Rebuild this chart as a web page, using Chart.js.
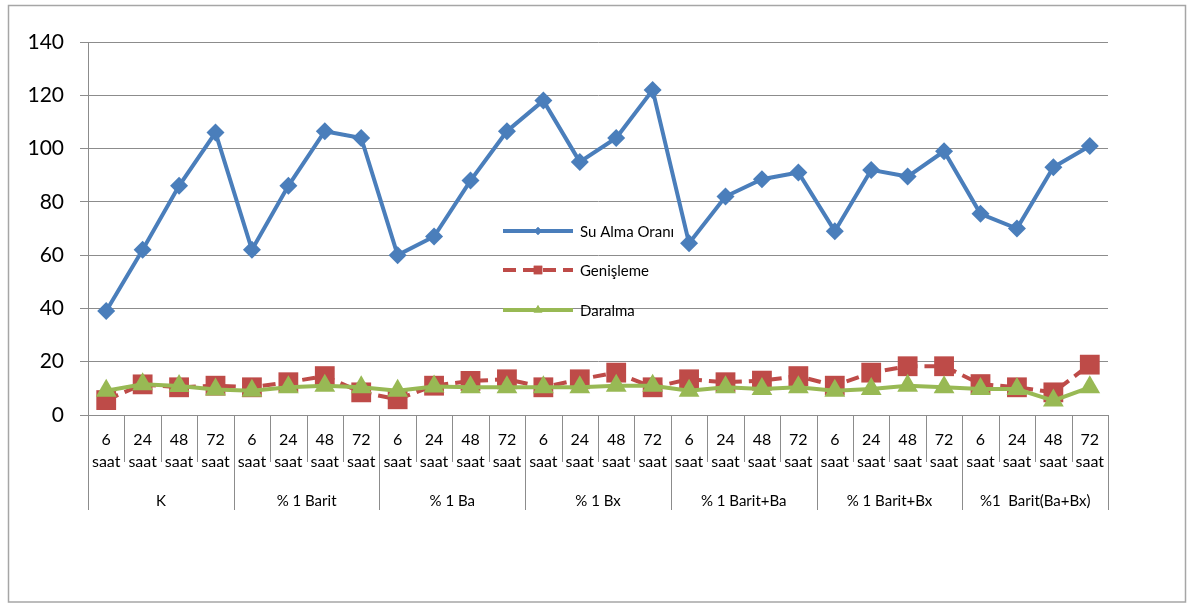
<!DOCTYPE html>
<html>
<head>
<meta charset="utf-8">
<script src="https://cdn.jsdelivr.net/npm/chart.js@4"></script>
<style>
  html, body { margin: 0; padding: 0; background: #fff; }
  #wrap { width: 1195px; height: 604px; position: relative; }
</style>
</head>
<body>
<div id="wrap"><canvas id="c" width="1195" height="604"></canvas></div>
<script>
const hours = ['6', '24', '48', '72'];
const groups = ['K', '% 1 Barit', '% 1 Ba', '% 1 Bx', '% 1 Barit+Ba', '% 1 Barit+Bx', '%1  Barit(Ba+Bx)'];
const categories = [];
groups.forEach(() => hours.forEach(h => categories.push([h, 'saat'])));

const suAlmaOrani = [39, 62, 86, 106, 62, 86, 106.5, 104, 60, 67, 88, 106.5, 118, 95, 104, 122, 64.5, 82, 88.5, 91, 69, 92, 89.5, 99, 75.5, 70, 93, 101];
const genisleme = [5.6, 11.5, 10.4, 11, 10.4, 12.3, 14.6, 8.5, 5.9, 11, 12.8, 13.4, 10.4, 13.4, 15.9, 10.4, 13.4, 12.3, 12.9, 14.6, 11, 15.9, 18.3, 18.3, 11.6, 10.4, 8.5, 18.9];
const daralma = [9.1, 11.5, 10.9, 9.6, 9.1, 10.4, 11, 10.4, 9.1, 10.7, 10.4, 10.4, 10.4, 10.4, 11, 11, 9.1, 10.4, 9.75, 10.4, 9.1, 9.75, 11, 10.4, 9.75, 9.75, 5.4, 10.4];
const yTicks = [0, 20, 40, 60, 80, 100, 120, 140];
const seriesNames = ['Su Alma Oranı', 'Genişleme', 'Daralma'];

const FONT = 'Lato, "Open Sans", sans-serif';
const GRID = '#8c8c8c';
const BLUE = '#4A7EBB', RED = '#BE4B48', GREEN = '#98B954';

const decorPlugin = {
  id: 'decor',
  beforeDraw(chart) {
    const ctx = chart.ctx;
    ctx.save();
    ctx.fillStyle = '#fff';
    ctx.fillRect(0, 0, chart.width, chart.height);
    ctx.restore();
  },
  afterDraw(chart) {
    const ctx = chart.ctx;
    const x = chart.scales.x;
    const area = chart.chartArea;
    const n = categories.length;
    const w = (area.right - area.left) / n;
    ctx.save();
    // outer frame
    ctx.strokeStyle = '#a6a6a6';
    ctx.lineWidth = 1.5;
    ctx.strokeRect(8.5, 5.5, 1177, 596.5);
    // category separators
    ctx.strokeStyle = GRID;
    ctx.lineWidth = 1;
    for (let i = 0; i <= n; i++) {
      const px = Math.round(area.left + i * w) + 0.5;
      const long = i % 4 === 0;
      ctx.beginPath();
      ctx.moveTo(px, area.bottom);
      ctx.lineTo(px, area.bottom + (long ? 95 : 47));
      ctx.stroke();
    }
    // group labels
    ctx.fillStyle = '#000';
    ctx.font = '15px ' + FONT;
    ctx.textAlign = 'center';
    ctx.textBaseline = 'middle';
    groups.forEach((g, gi) => {
      const cx = (x.getPixelForValue(gi * 4) + x.getPixelForValue(gi * 4 + 3)) / 2;
      ctx.fillText(g, cx, area.bottom + 86);
    });
    // legend
    const lx = 503, tx = 580;
    const ys = [231, 270, 310];
    chart.data.datasets.forEach((ds, i) => {
      const y = ys[i];
      ctx.save();
      ctx.strokeStyle = ds.borderColor;
      ctx.lineWidth = 4;
      ctx.setLineDash(ds.borderDash || []);
      ctx.beginPath();
      ctx.moveTo(lx, y);
      ctx.lineTo(lx + 70, y);
      ctx.stroke();
      ctx.restore();
      ctx.fillStyle = ds.borderColor;
      ctx.beginPath();
      Chart.helpers.drawPoint(ctx, {
        pointStyle: ds.pointStyle,
        radius: ds.legendRadius,
        borderWidth: 0,
        rotation: 0
      }, lx + 35, y);
      ctx.fill();
      ctx.fillStyle = '#000';
      ctx.font = '15px ' + FONT;
      ctx.textAlign = 'left';
      ctx.textBaseline = 'middle';
      ctx.fillText(seriesNames[i], tx, y + 1);
    });
    ctx.restore();
  }
};

new Chart(document.getElementById('c'), {
  type: 'line',
  data: {
    labels: categories,
    datasets: [
      {
        label: seriesNames[0], data: suAlmaOrani,
        borderColor: BLUE, backgroundColor: BLUE, borderWidth: 4,
        pointStyle: 'rectRot', pointRadius: 9, pointBorderWidth: 0,
        pointBackgroundColor: BLUE, legendRadius: 4, tension: 0, order: 3
      },
      {
        label: seriesNames[1], data: genisleme,
        borderColor: RED, backgroundColor: RED, borderWidth: 4, borderDash: [13, 7],
        pointStyle: 'rect', pointRadius: 14, pointBorderWidth: 0,
        pointBackgroundColor: RED, legendRadius: 6, tension: 0, order: 2
      },
      {
        label: seriesNames[2], data: daralma,
        borderColor: GREEN, backgroundColor: GREEN, borderWidth: 4,
        pointStyle: 'triangle', pointRadius: 12, pointBorderWidth: 0,
        pointBackgroundColor: GREEN, legendRadius: 5, tension: 0, order: 1
      }
    ]
  },
  options: {
    responsive: false,
    animation: false,
    events: [],
    layout: { padding: { left: 10, right: 87, top: 42, bottom: 0 } },
    plugins: { legend: { display: false }, tooltip: { enabled: false } },
    scales: {
      x: {
        type: 'category',
        offset: true,
        afterFit(s) { s.height = 189; },
        grid: { display: false, drawTicks: false },
        border: { display: true, color: GRID, width: 1 },
        ticks: {
          autoSkip: false, maxRotation: 0, minRotation: 0,
          color: '#000', padding: 14,
          font: { family: FONT, size: 16, lineHeight: 1.35 }
        }
      },
      y: {
        min: 0, max: 140,
        afterFit(s) { s.width = 78; },
        afterBuildTicks(s) { s.ticks = yTicks.map(v => ({ value: v })); },
        grid: { color: GRID, lineWidth: 1, tickLength: 8, drawTicks: true },
        border: { display: true, color: GRID, width: 1 },
        ticks: {
          color: '#000', padding: 16,
          font: { family: FONT, size: 21 }
        }
      }
    }
  },
  plugins: [decorPlugin]
});
</script>
</body>
</html>
